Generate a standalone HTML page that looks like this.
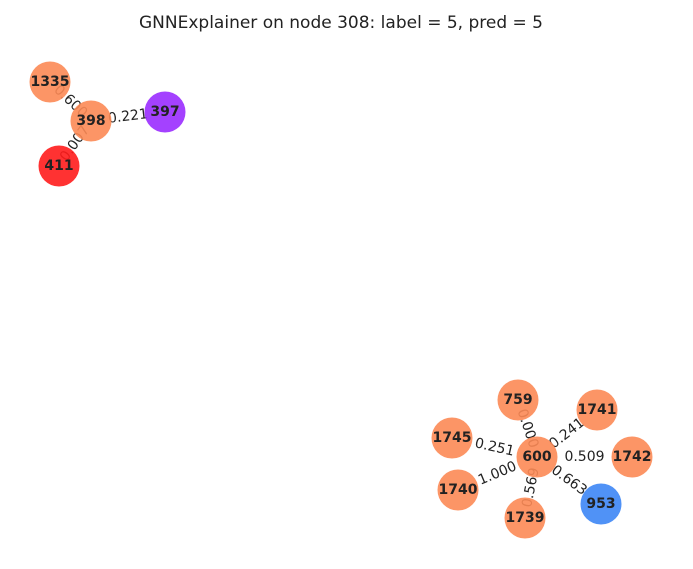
<!DOCTYPE html>
<html><head><meta charset="utf-8"><style>
html,body{margin:0;padding:0;background:#fff;}
svg{display:block;font-family:"DejaVu Sans","Liberation Sans",sans-serif;}
</style></head><body>
<svg id="g" width="693" height="569" viewBox="0 0 693 569">
<text x="341" y="28" text-anchor="middle" font-size="17" fill="#222">GNNExplainer on node 308: label = 5, pred = 5</text>
<g id="labels"></g><g id="nodes"></g>
</svg>
<script>
const nodeIds=["1335","398","397","411","759","1741","1745","600","1742","1740","953","1739"];
const nodeX=[50,91,165,59,518,597,452,537,632,458,601,525];
const nodeY=[82,121,112,166,400,410,438,457,457,490,504,518];
const nodeColors=["#fc8a55","#fc8a55","#9a2cff","#ff1c1c","#fc8a55","#fc8a55","#fc8a55","#fc8a55","#fc8a55","#fc8a55","#3d86f5","#fc8a55"];
const edgeSrc=["398","398","398","600","600","600","600","600","600","600"];
const edgeDst=["1335","397","411","759","1741","1745","1742","1740","953","1739"];
const edgeWeights=["0.600","0.221","0.007","0.000","0.241","0.251","0.509","1.000","0.663","0.569"];
const NS="http://www.w3.org/2000/svg";
const lg=document.getElementById('labels'),ng=document.getElementById('nodes');
const pos=id=>{const i=nodeIds.indexOf(id);return [nodeX[i],nodeY[i]];};
edgeSrc.forEach((s,i)=>{
  const [x1,y1]=pos(s),[x2,y2]=pos(edgeDst[i]);
  const mx=(x1+x2)/2,my=(y1+y2)/2;
  let a=Math.atan2(y2-y1,x2-x1)*180/Math.PI;
  if(a>90)a-=180; if(a<-90)a+=180;
  const t=document.createElementNS(NS,'text');
  
  
  t.setAttribute('x',mx);t.setAttribute('y',my);
  t.setAttribute('text-anchor','middle');t.setAttribute('dominant-baseline','central');
  t.setAttribute('font-size','14');t.setAttribute('fill','#222');
  t.setAttribute('transform',`rotate(${a} ${mx} ${my})`);
  t.textContent=edgeWeights[i];
  lg.appendChild(t);
});
nodeIds.forEach((id,i)=>{
  const g=document.createElementNS(NS,'g');
  
  
  const c=document.createElementNS(NS,'circle');
  c.setAttribute('cx',nodeX[i]);c.setAttribute('cy',nodeY[i]);c.setAttribute('r',20.5);
  c.setAttribute('fill',nodeColors[i]);c.setAttribute('fill-opacity','0.9');
  const t=document.createElementNS(NS,'text');
  t.setAttribute('x',nodeX[i]);t.setAttribute('y',nodeY[i]);
  t.setAttribute('text-anchor','middle');t.setAttribute('dominant-baseline','central');
  t.setAttribute('font-size','14');t.setAttribute('font-weight','bold');t.setAttribute('fill','#222');
  t.textContent=id;
  g.appendChild(c);g.appendChild(t);ng.appendChild(g);
});
</script>
</body></html>
